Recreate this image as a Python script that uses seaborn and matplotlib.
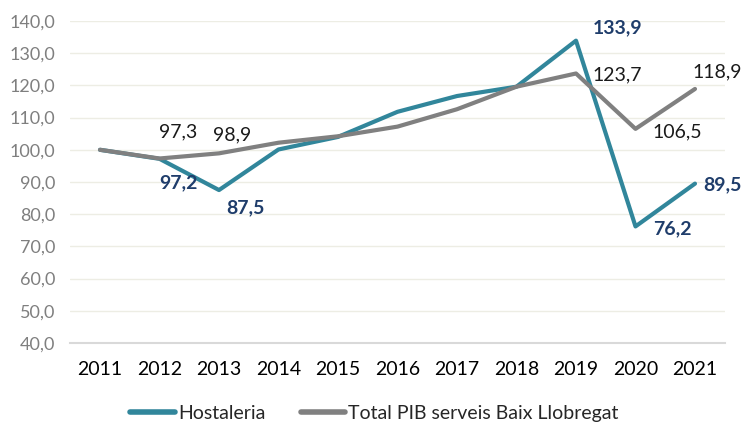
import matplotlib
matplotlib.use("Agg")
import matplotlib.pyplot as plt
import seaborn as sns
import pandas as pd

years = ["2011", "2012", "2013", "2014", "2015", "2016", "2017", "2018", "2019", "2020", "2021"]
hostaleria = [100.0, 97.2, 87.5, 100.1, 104.0, 111.8, 116.7, 119.6, 133.9, 76.2, 89.5]
total_pib = [100.0, 97.3, 98.9, 102.2, 104.2, 107.2, 112.6, 119.6, 123.7, 106.5, 118.9]
series_names = ["Hostaleria", "Total PIB serveis Baix Llobregat"]
y_ticks = [40, 50, 60, 70, 80, 90, 100, 110, 120, 130, 140]

# label offsets in pixels for labelled points (year index -> offset)
h_labels = {1: (19, -24), 2: (26, -18), 8: (42, 13), 9: (37, -2), 10: (27, -1)}
g_labels = {1: (19, 27), 2: (13, 18), 8: (41, -1), 9: (42, -3), 10: (22, 17)}

sns.set_theme(style="white")
plt.rcParams["font.family"] = ["Lato", "DejaVu Sans"]

df = pd.DataFrame({
    "year": years * 2,
    "value": hostaleria + total_pib,
    "series": [series_names[0]] * len(years) + [series_names[1]] * len(years),
})

colors = {series_names[0]: "#31869B", series_names[1]: "#808080"}

fig = plt.figure(figsize=(7.43, 4.23), dpi=100)
ax = fig.add_axes([70.25 / 743, 1 - 343 / 423, (724.75 - 70.25) / 743, 322 / 423])

sns.lineplot(data=df, x="year", y="value", hue="series", palette=colors,
             linewidth=3, ax=ax, sort=False, legend=True)

ax.set_xlim(-0.5, len(years) - 0.5)
ax.set_ylim(40, 140)
ax.set_yticks(y_ticks)
ax.set_yticklabels([f"{v:.1f}".replace(".", ",") for v in y_ticks], color="#7F7F7F", fontsize=13)
ax.tick_params(axis="x", labelsize=14, colors="#000000", pad=13, length=0)
ax.tick_params(axis="y", pad=11, length=0)
ax.set_xlabel("")
ax.set_ylabel("")
ax.grid(axis="y", color="#EDEDE4", linewidth=1)
ax.set_axisbelow(True)
for s in ["top", "right", "left"]:
    ax.spines[s].set_visible(False)
ax.spines["bottom"].set_color("#D9D9D9")
ax.spines["bottom"].set_linewidth(1.5)

def fmt(v):
    return f"{v:.1f}".replace(".", ",")

for i, (dx, dy) in h_labels.items():
    ax.annotate(fmt(hostaleria[i]), (i, hostaleria[i]), xytext=(dx, dy),
                textcoords="offset pixels", ha="center", va="center",
                fontsize=14, fontweight="bold", color="#1F3D6B")
for i, (dx, dy) in g_labels.items():
    ax.annotate(fmt(total_pib[i]), (i, total_pib[i]), xytext=(dx, dy),
                textcoords="offset pixels", ha="center", va="center",
                fontsize=14, color="#1A1A1A")

handles, labels = ax.get_legend_handles_labels()
for h in handles:
    h.set_linewidth(4)
ax.legend(handles, labels, loc="center", bbox_to_anchor=(374.5 / 743, 1 - 413 / 423),
          bbox_transform=fig.transFigure, ncol=2, frameon=False, fontsize=14,
          handlelength=2.3, handletextpad=0.15, columnspacing=1.8)

fig.savefig("out.png", dpi=100)
